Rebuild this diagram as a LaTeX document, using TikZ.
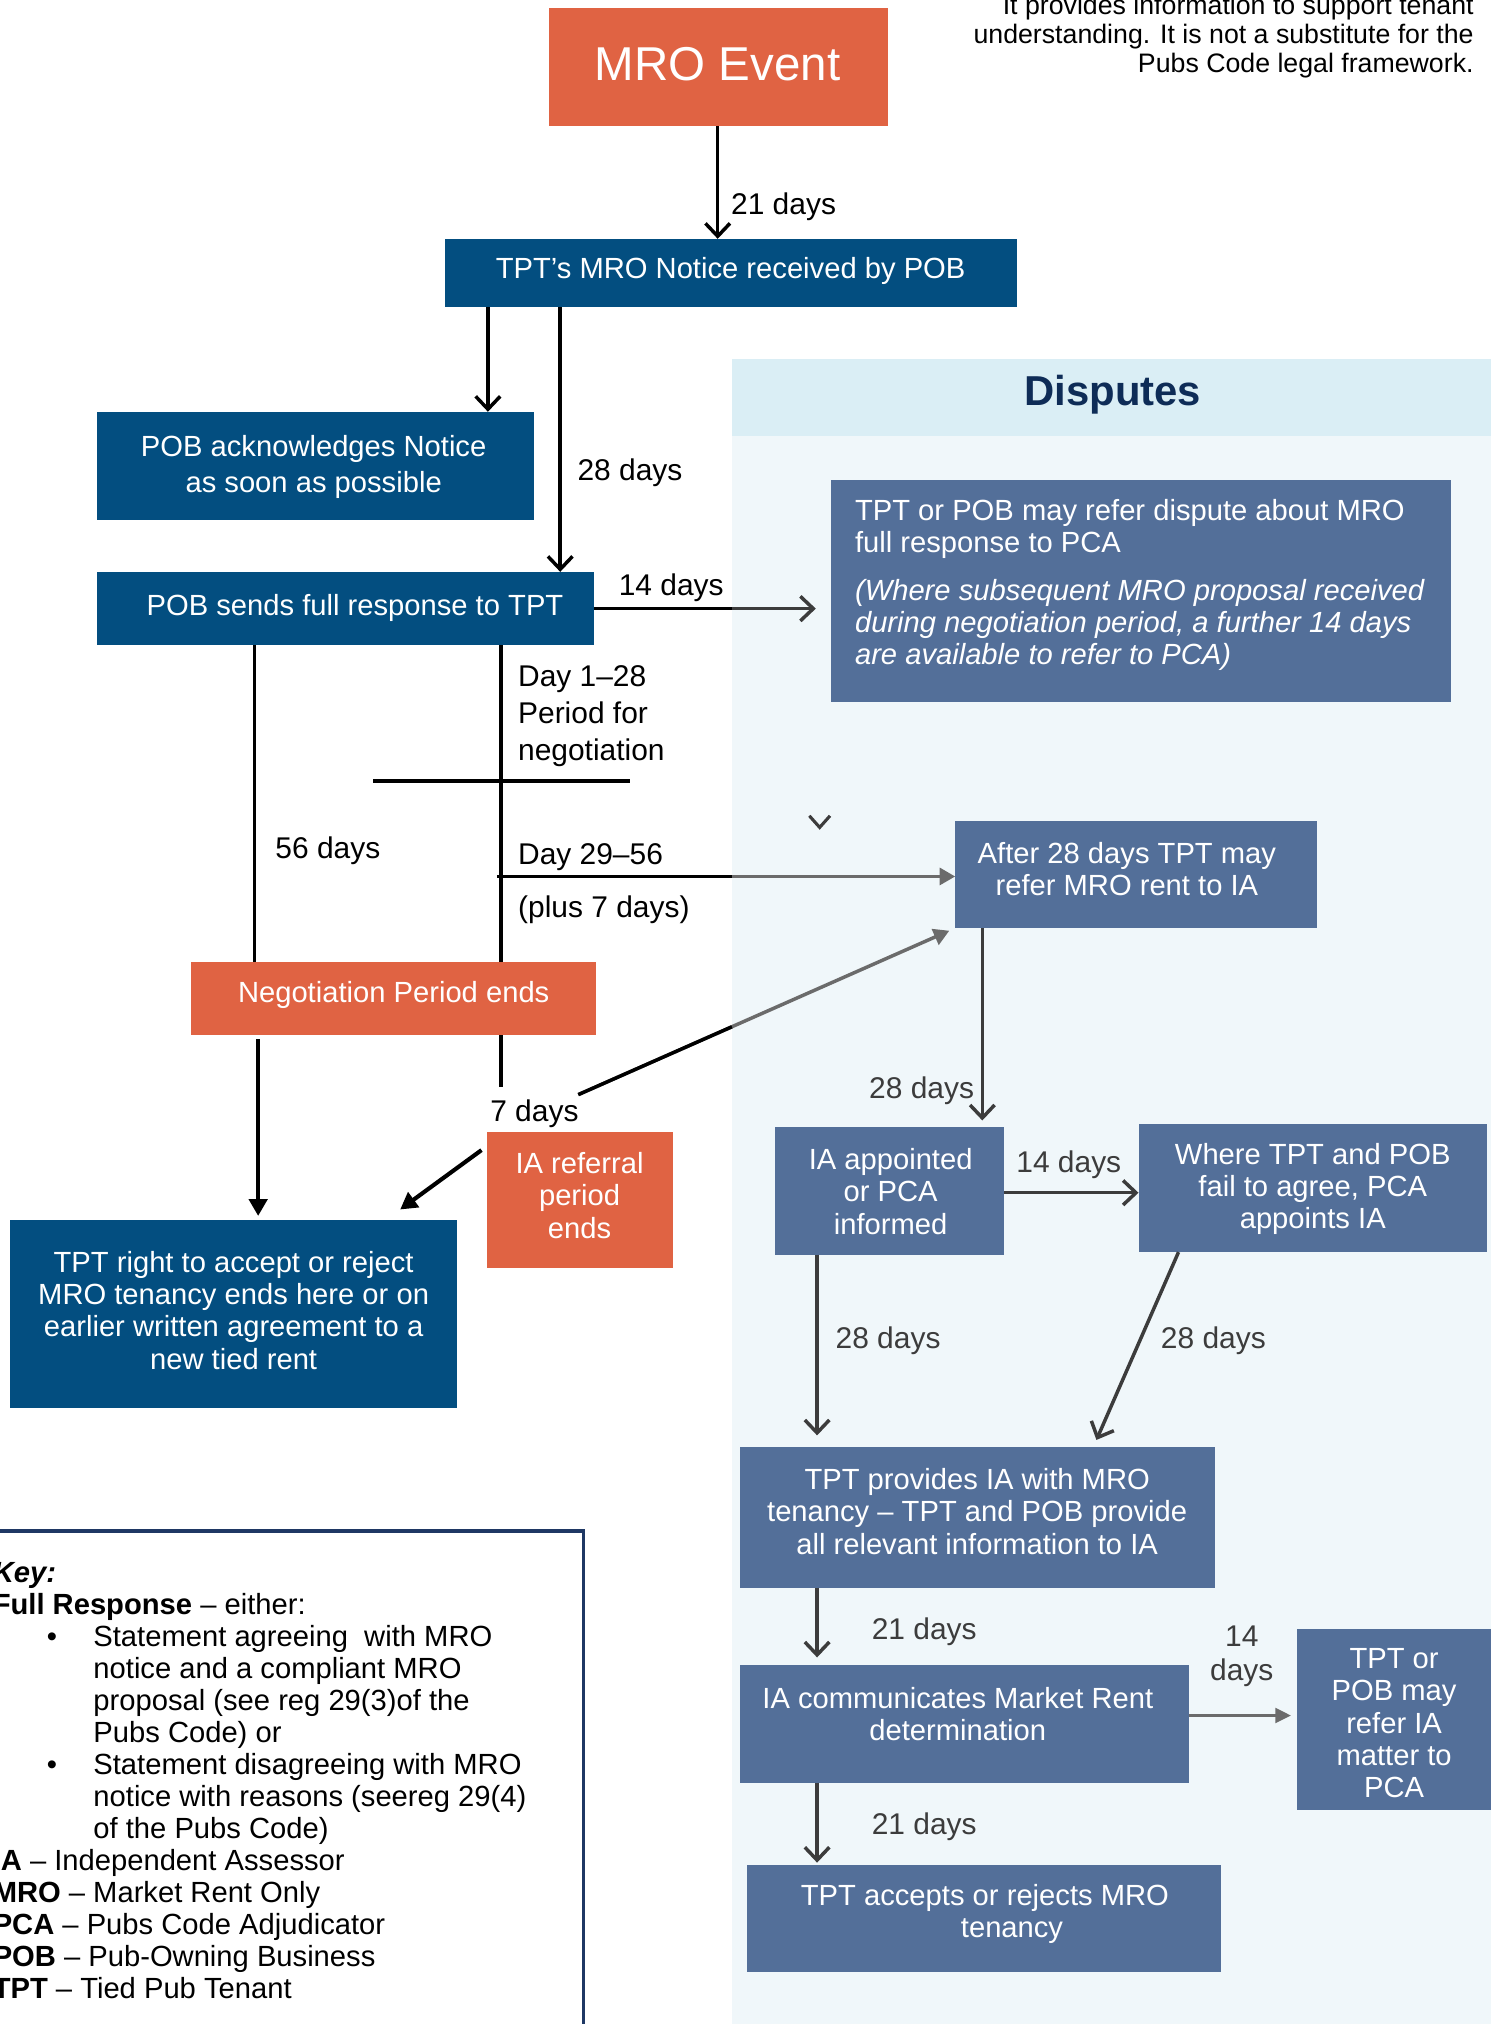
\documentclass[tikz,border=0pt]{standalone}
\usepackage{fontspec}
\setmainfont{Liberation Sans}
\usetikzlibrary{arrows.meta,calc}
\definecolor{morange}{HTML}{E06343}
\definecolor{mblue}{HTML}{034E80}
\definecolor{msteel}{HTML}{536F99}
\definecolor{mhead}{HTML}{DAEEF5}
\definecolor{mpanel}{HTML}{F0F7FA}
\definecolor{mnavy}{HTML}{0E2C57}
\definecolor{mkey}{HTML}{1F3864}
\definecolor{dgrey}{HTML}{3C3C3C}
\definecolor{mgrey}{HTML}{6B6B6B}
\newcommand\bfnt{\fontsize{11.3pt}{12.5pt}\selectfont}
\newcommand\lfnt{\fontsize{11.6pt}{14.25pt}\selectfont}
\newcommand\bx[6]{%
  \pgfmathsetmacro\bxw{(#5-#3)*0.5}%
  \pgfmathsetmacro\bxh{(#6-#4)*0.5}%
  \node[#2, minimum width=\bxw pt, minimum height=\bxh pt, inner sep=0pt, outer sep=0pt] (#1) at ({(#3+#5)/2},{(#4+#6)/2}) {};}
\tikzset{
  txt/.style={inner sep=0pt, align=center, text=white, font=\bfnt},
  lbl/.style={inner sep=0pt, font=\lfnt},
  dlbl/.style={lbl, text=dgrey},
  blk/.style={line width=1.35pt, black},
  barb/.style={blk, -{Straight Barb[length=5pt,width=9.5pt]}},
  darr/.style={line width=1.35pt, dgrey, -{Straight Barb[length=5pt,width=9.5pt]}},
  gtri/.style={line width=1.35pt, mgrey, -{Triangle[length=6pt,width=6.5pt]}},
  btri/.style={line width=1.6pt, black, -{Triangle[length=6.5pt,width=7pt]}},
}
\begin{document}
\begin{tikzpicture}[x=0.5pt,y=-0.5pt]
\useasboundingbox (0,0) rectangle (1155,1568);
\clip (0,0) rectangle (1155,1568);

% Disputes panel
\bx{panel}{fill=mpanel}{567}{338}{1165}{1575}
\bx{head}{fill=mhead}{567}{278}{1165}{338}
\node[inner sep=0pt, font=\fontsize{16.2pt}{18pt}\selectfont\bfseries, text=mnavy] (head-t) at (862,306) {Disputes};

% note
\node[anchor=north east, align=right, inner sep=0pt, font=\fontsize{10.35pt}{11.3pt}\selectfont] (note) at (1142,-4.3) {It provides information to support tenant\\understanding. It is not a substitute for the\\Pubs Code legal framework.};

% main flow boxes
\bx{mro}{fill=morange}{425}{6}{688}{98}
\node[txt, font=\fontsize{18.4pt}{20pt}\selectfont] (mro-t) at (556,50) {MRO Event};
\bx{notice}{fill=mblue}{345}{185}{788}{238}
\node[txt] (notice-t) at (566,210) {TPT’s MRO Notice received by POB};
\bx{ack}{fill=mblue}{75}{319}{414}{403}
\node[txt, font=\fontsize{11.3pt}{14pt}\selectfont] (ack-t) at (243,362) {POB acknowledges Notice\\as soon as possible};
\bx{sends}{fill=mblue}{75}{443}{460}{500}
\node[txt] (sends-t) at (275,471) {POB sends full response to TPT};
\bx{d1}{fill=msteel}{644}{372}{1124}{544}
\node[txt, align=left, anchor=west] (d1-t) at (662,453) {TPT or POB may refer dispute about MRO\\full response to PCA\\[6pt]\textit{(Where subsequent MRO proposal received}\\\textit{during negotiation period, a further 14 days}\\\textit{are available to refer to PCA)}};

\bx{a28}{fill=msteel}{740}{636}{1020}{719}
\node[txt] (a28-t) at (873,673) {After 28 days TPT may\\refer MRO rent to IA};
\bx{neg}{fill=morange}{148}{745}{462}{802}
\node[txt] (neg-t) at (305,771) {Negotiation Period ends};
\bx{iaref}{fill=morange}{377}{877}{521}{982}
\node[txt] (iaref-t) at (449,926) {IA referral\\period\\ends};
\bx{tptr}{fill=mblue}{8}{945}{354}{1091}
\node[txt] (tptr-t) at (181,1015) {TPT right to accept or reject\\MRO tenancy ends here or on\\earlier written agreement to a\\new tied rent};

\bx{iaapp}{fill=msteel}{600}{873}{778}{972}
\node[txt] (iaapp-t) at (690,923) {IA appointed\\or PCA\\informed};
\bx{where}{fill=msteel}{882}{871}{1152}{970}
\node[txt] (where-t) at (1017,921) {Where TPT and POB\\fail to agree, PCA\\appoints IA};
\bx{prov}{fill=msteel}{573}{1121}{941}{1230}
\node[txt] (prov-t) at (757,1171) {TPT provides IA with MRO\\tenancy – TPT and POB provide\\all relevant information to IA};
\bx{iacomm}{fill=msteel}{573}{1290}{921}{1381}
\node[txt] (iacomm-t) at (742,1328) {IA communicates Market Rent\\determination};
\bx{refer}{fill=msteel}{1005}{1262}{1155}{1402}
\node[txt] (refer-t) at (1080,1335) {TPT or\\POB may\\refer IA\\matter to\\PCA};
\bx{acc}{fill=msteel}{579}{1445}{946}{1528}
\node[txt] (acc-t) at (763,1483) {TPT accepts or rejects MRO\\\hspace*{21pt}tenancy};

% labels
\node[lbl, anchor=west] (l21) at (566,160) {21 days};
\node[lbl, anchor=west] (l28) at (447,366) {28 days};
\node[lbl, anchor=west] (l14) at (479,455) {14 days};
\node[lbl, anchor=west, align=left] (lday1) at (401,555) {Day 1–28\\Period for\\negotiation};
\node[lbl, anchor=west] (l56) at (213,659) {56 days};
\node[lbl, anchor=west] (lday29) at (401,664) {Day 29–56};
\node[lbl, anchor=west] (lplus) at (401,705) {(plus 7 days)};
\node[lbl] (l7) at (414,863) {7 days};
\node[dlbl, anchor=east] (l28b) at (755,845) {28 days};
\node[dlbl] (l14b) at (828,902) {14 days};
\node[dlbl] (l28c) at (688,1039) {28 days};
\node[dlbl] (l28d) at (940,1039) {28 days};
\node[dlbl] (l21b) at (716,1264) {21 days};
\node[dlbl, align=center, font=\fontsize{11.6pt}{13pt}\selectfont] (l14c) at (962,1283) {14\\days};
\node[dlbl] (l21c) at (716,1415) {21 days};

% key
\bx{key}{draw=mkey, line width=1.5pt, fill=white}{-20}{1186}{452}{1600}
\node[anchor=north west, align=left, inner sep=0pt, font=\fontsize{11.3pt}{12.4pt}\selectfont] (key-t) at (-6,1210) {%
\textbf{\textit{Key:}}\\
\textbf{Full Response} – either:\\
\hspace*{21pt}\makebox[18pt][l]{•}Statement agreeing\ \ with MRO\\
\hspace*{39pt}notice and a compliant MRO\\
\hspace*{39pt}proposal (see reg 29(3)of the\\
\hspace*{39pt}Pubs Code) or\\
\hspace*{21pt}\makebox[18pt][l]{•}Statement disagreeing with MRO\\
\hspace*{39pt}notice with reasons (seereg 29(4)\\
\hspace*{39pt}of the Pubs Code)\\
\textbf{IA} – Independent Assessor\\
\textbf{MRO} – Market Rent Only\\
\textbf{PCA} – Pubs Code Adjudicator\\
\textbf{POB} – Pub-Owning Business\\
\textbf{TPT} – Tied Pub Tenant};

% main connectors
\draw[barb] (556,0 |- mro.south) -- (556,0 |- notice.north);
\draw[barb] (378,0 |- notice.south) -- (378,0 |- ack.north);
\draw[barb] (434,0 |- notice.south) -- (434,0 |- sends.north);
\draw[blk] (sends.east) -- (sends.east -| panel.west);
\draw[darr, shorten >=6pt] (sends.east -| panel.west) -- (sends.east -| d1.west);
\draw[blk] (197,0 |- sends.south) -- (197,0 |- neg.north);
\draw[blk] (388,0 |- sends.south) -- (388,0 |- neg.north);
\draw[blk] (289,605) -- (488,605);
\coordinate (d29s) at (385,679);
\draw[blk] (d29s) -- (d29s -| panel.west);
\draw[gtri] (d29s -| panel.west) -- (d29s -| a28.west);
\draw[btri, shorten <=1.5pt, shorten >=1.5pt] (200,0 |- neg.south) -- (200,0 |- tptr.north);
\coordinate (l7top) at (388,842);
\draw[blk] (388,0 |- neg.south) -- (l7top);
\coordinate (diag) at (448,848);
\draw[gtri, shorten >=2.5pt] (diag) -- (a28.south west);
\draw[blk] (diag) -- ($(diag)!0.4075!(a28.south west)$);
\draw[btri] ($(iaref.north west)+(-4,14)$) -- ($(tptr.north east)+(-44,-8)$);
\draw[dgrey, line width=1.2pt] (627,632) -- (635,641) -- (643,632);

% disputes connectors
\draw[darr, shorten >=2.5pt] (761,0 |- a28.south) -- (761,0 |- iaapp.north);
\draw[darr] (iaapp.east |- 0,924) -- (where.west |- 0,924);
\draw[darr, shorten >=4.5pt] (633,0 |- iaapp.south) -- (633,0 |- prov.north);
\draw[darr, shorten >=3pt] (913,0 |- where.south) -- (847,0 |- prov.north);
\draw[darr, shorten >=3pt] (633,0 |- prov.south) -- (633,0 |- iacomm.north);
\draw[line width=0.8pt, mgrey, -{Triangle[length=6pt,width=5.8pt]}, shorten >=2.5pt] (iacomm.east |- 0,1329) -- (refer.west |- 0,1329);
\draw[darr, shorten >=1pt] (633,0 |- iacomm.south) -- (633,0 |- acc.north);
\end{tikzpicture}
\end{document}
